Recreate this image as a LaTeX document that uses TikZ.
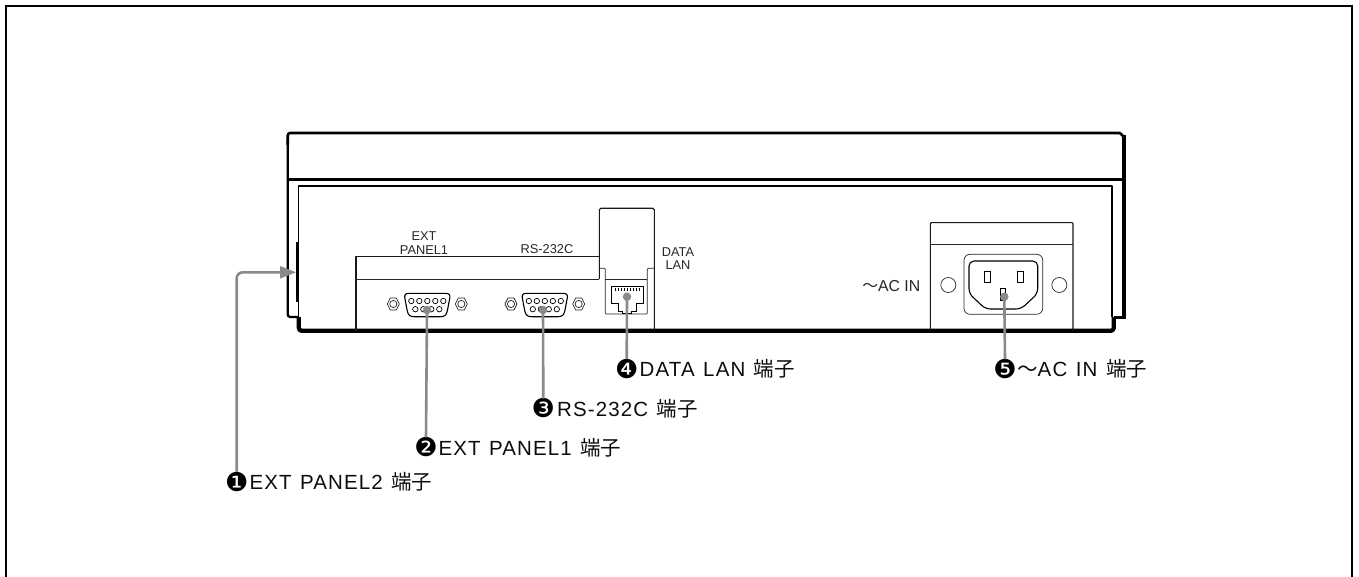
\documentclass[tikz,border=0pt]{standalone}
\usepackage{fontspec}
\setmainfont{Liberation Sans}
\newfontfamily\lblfont[LetterSpace=5.5,WordSpace=1.25]{Liberation Sans}
\newfontfamily\cjkfont{Noto Sans CJK JP}
\newfontfamily\numfont{DejaVu Sans}
\usetikzlibrary{arrows.meta}
\definecolor{ptr}{HTML}{8A8A8A}
\newcommand{\tanshi}{\cjkfont 端子}
\newcommand{\wavesym}{{\cjkfont 〜}}
\tikzset{
  x=1pt,y=-1pt,
  frame/.style={line width=2pt,black},
  heavy/.style={line width=2.3pt,black,line join=round},
  top line/.style={line width=2.6pt,black,line join=round},
  panel line/.style={line width=1.8pt,black,line join=round},
  thick heavy/.style={line width=4.3pt,black,line join=round},
  med/.style={line width=1.1pt,black!90},
  thinl/.style={line width=0.7pt,black!85},
  ptrline/.style={line width=2.6pt,ptr},
  ptrdot/.style={circle,fill=ptr,inner sep=0pt,minimum size=8.5pt},
  panel text/.style={font=\fontsize{12.8}{13.6}\selectfont,text=black!85,inner sep=0pt,align=center},
  callout/.style={font=\fontsize{20.5}{24}\selectfont,anchor=base west,inner sep=0pt,text=black!95},
  numb/.style={font=\numfont\fontsize{26}{26}\selectfont,inner sep=0pt,text=black},
  screw/.pic={\draw[line width=.7pt,black!85] (-6,0)--(-3,-6)--(3,-6)--(6,0)--(3,6)--(-3,6)--cycle; \draw[line width=.7pt,black!85] (0,0) circle (3.6);},
  dsub/.pic={
    \draw[line width=1.1pt,black] (-18,-11.7) .. controls (-22,-11.7) and (-23,-10) .. (-22.5,-7) -- (-20,6) .. controls (-19,10.5) and (-17,11.7) .. (-13,11.7) -- (13,11.7) .. controls (17,11.7) and (19,10.5) .. (20,6) -- (22.5,-7) .. controls (23,-10) and (22,-11.7) .. (18,-11.7) -- cycle;
    \foreach \px in {-16,-8,0,8,16} \draw[line width=.7pt,black] (\px,-4) circle (2.7);
    \foreach \px in {-12,-4,4,12} \draw[line width=.7pt,black] (\px,4.2) circle (2.7);
  },
}
\begin{document}
\begin{tikzpicture}
\useasboundingbox (0,0) rectangle (1359,577);
% frame
\draw[frame] (6,577) -- (6,6) -- (1352,6) -- (1352,577);
% housing
\draw[heavy,rounded corners=2.5pt] (298.4,317) -- (287.7,317) -- (287.7,140) ;
\draw[top line,rounded corners=2.5pt] (287.7,145) -- (287.7,133) -- (1120.5,133);
\draw[top line] (1120,133) -- (1123.5,136.5);
\draw[line width=4pt,black] (1124,135.5) -- (1124,318.5);
\draw[line width=3pt,black] (1126,317) -- (1113.5,317);
\draw[heavy] (287.7,179.5) -- (1122,179.5);
\draw[panel line] (298.4,317) -- (298.4,185.7) -- (1112,185.7) -- (1112,317);
\draw[thick heavy,rounded corners=3pt] (298.8,317) -- (298.8,330.8) -- (1113.8,330.8) -- (1113.8,317);
\fill[black] (296.4,242) rectangle (299.4,301.7);
% serial block
\draw[med] (356,331) -- (356,256.7) -- (599.3,256.7);
\draw[thinl] (356,279.2) -- (599.3,279.2);
\draw[med,rounded corners=1.5pt] (599.3,279.2) -- (599.3,208.3) -- (654.3,208.3) -- (654.3,331);
\draw[thinl,rounded corners=1pt] (599.3,268.3) -- (605.3,268.3) -- (605.3,314) -- (647.3,314) -- (647.3,268.3) -- (654.3,268.3);
\draw[thinl] (605.3,279.3) -- (647.3,279.3);
% RJ45
\draw[line width=1pt,black] (611,286) -- (643,286) -- (643,303.5) -- (636,303.5) -- (636,311) -- (631,311) -- (631,313) -- (622,313)-- (622,311) -- (618.5,311) -- (618.5,303.5) -- (611,303.5) -- cycle;
\foreach \px in {615,618,621,624,627,630,633,636,639} \draw[line width=.5pt,black] (\px,288) -- (\px,290.5);
% connectors
\pic at (393.3,304) {screw}; \pic at (461.3,304) {screw};
\pic at (511,304) {screw}; \pic at (578.7,304) {screw};
\pic at (427.3,305) {dsub}; \pic at (544.8,305) {dsub};
% AC block
\draw[med,rounded corners=1pt] (930.3,331) -- (930.3,222.7) -- (1073,222.7) -- (1073,331);
\draw[thinl] (930.3,244.3) -- (1073,244.3);
\draw[line width=.7pt,black!85] (948.3,285) circle (7.5);
\draw[line width=.7pt,black!85] (1059.3,285) circle (7.5);
\draw[line width=.7pt,black!85,rounded corners=6pt] (964,254.3) rectangle (1042.7,314.3);
\draw[line width=1.1pt,black,rounded corners=5pt] (969,273) -- (969,261) -- (1037.7,261) -- (1037.7,293.5) -- (1021,309) -- (985.5,309) -- (969,293.5) -- cycle;
\draw[line width=.6pt,black] (984.3,271.7) rectangle (990,282.7);
\draw[line width=.6pt,black] (1017.7,271.7) rectangle (1023.3,282.7);
\draw[line width=.6pt,black] (1000.3,288.3) rectangle (1005.3,300);
% panel labels
\node[panel text] (lext) at (424,243) {EXT\\PANEL1};
\node[panel text] (lrs) at (547,249.5) {RS-232C};
\node[panel text] (ldata) at (678,258.5) {DATA\\LAN};
\node[anchor=east,inner sep=0pt,font=\fontsize{15.8}{18}\selectfont,text=black!85] (lac) at (920.5,286.5) {\wavesym AC IN};
% callout numbers
\node[numb] (n1) at (236.7,481.7) {❶};
\node[numb] (n2) at (426,447.3) {❷};
\node[numb] (n3) at (543.3,408.5) {❸};
\node[numb] (n4) at (626.7,369) {❹};
\node[numb] (n5) at (1005,369) {❺};
\node[callout] (t1) at (249.3,489) {\lblfont EXT PANEL2 \tanshi};
\node[callout] (t2) at (438.3,455) {\lblfont EXT PANEL1 \tanshi};
\node[callout] (t3) at (557,416) {\lblfont RS-232C \tanshi};
\node[callout] (t4) at (639.5,376.3) {\lblfont DATA LAN \tanshi};
\node[callout] (t5) at (1017,376.3) {\wavesym\lblfont AC IN \tanshi};
% pointers
\coordinate (p1) at (296,272.3);
\coordinate (p2) at (427,310);
\coordinate (p3) at (543,310);
\coordinate (p4) at (627,296.7);
\coordinate (p5) at (1004.3,296.7);
\node[ptrdot] (d2) at (p2) {};
\node[ptrdot] (d3) at (p3) {};
\node[ptrdot] (d4) at (p4) {};
\node[ptrdot] (d5) at (p5) {};
\draw[ptrline,rounded corners=6pt,-{Triangle[length=16pt,width=12pt]}] (n1.north) -- (n1.north |- p1) -- (p1);
\draw[ptrline] (d2.center) -- (n2.north);
\draw[ptrline] (d3.center) -- (n3.north);
\draw[ptrline] (d4.center) -- (n4.north);
\draw[ptrline] (d5.center) -- (n5.north);
\end{tikzpicture}
\end{document}
